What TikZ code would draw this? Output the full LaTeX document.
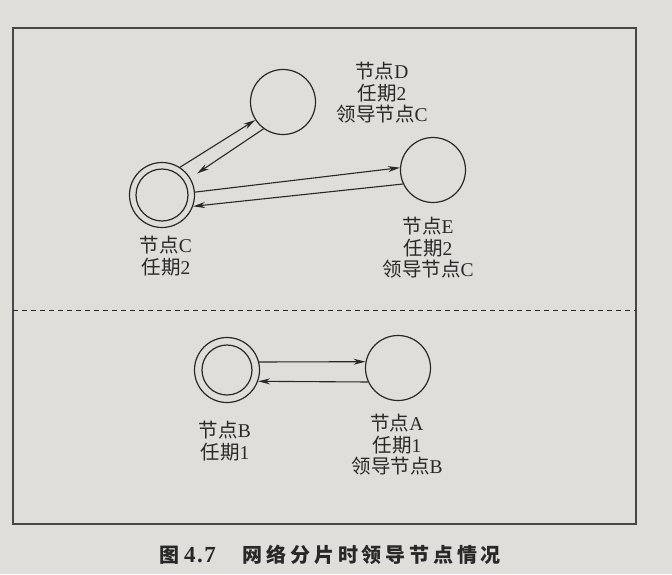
\documentclass[tikz,border=0pt]{standalone}
\usepackage{fontspec}
\setmainfont{Liberation Serif}
\newfontfamily\cjk{Noto Sans CJK SC}
\usetikzlibrary{arrows.meta}
\definecolor{paper}{RGB}{223,222,218}
\definecolor{ink}{RGB}{40,40,40}
\newcommand{\csp}{\hspace{3.8pt}}
\tikzset{
  nd/.style={circle, draw=ink, line width=1.2pt, minimum size=65pt, inner sep=0pt},
  lbl/.style={align=center, font=\fontsize{19.5}{21.5}\selectfont, text=ink, inner sep=0pt},
  msg/.style={-{Stealth[length=12pt,width=6pt]}, line width=1.1pt, draw=ink},
  frame/.style={draw=ink!85, line width=1.5pt},
  sep/.style={draw=ink, line width=1pt, dash pattern=on 5pt off 4pt}
}
\begin{document}
\begin{tikzpicture}[x=1pt,y=-1pt]
\useasboundingbox (0,0) rectangle (672,574);
\fill[paper] (0,0) rectangle (672,574);
% frame and separator
\draw[frame] (13,28) rectangle (636,524);
\coordinate (sepL) at (13,310);
\coordinate (sepR) at (636,310);
\draw[sep] (sepL) -- (sepR);
% nodes
\node[nd] (D) at (283,102) {};
\node[nd] (C) at (162,195) {};
\draw[ink, line width=1.2pt] (C) circle[radius=26pt];
\node[nd] (E) at (433,170) {};
\node[nd] (B) at (227,370) {};
\draw[ink, line width=1.2pt] (B) circle[radius=25pt];
\node[nd] (A) at (398,368) {};
% labels
\node[lbl] (Dl) at (382,93) {{\cjk 节点}D\\{\cjk 任期}2\\{\cjk 领导节点}C};
\node[lbl] (Cl) at (166,256) {{\cjk 节点}C\\{\cjk 任期}2};
\node[lbl] (El) at (428,248) {{\cjk 节点}E\\{\cjk 任期}2\\{\cjk 领导节点}C};
\node[lbl] (Bl) at (225,441) {{\cjk 节点}B\\{\cjk 任期}1};
\node[lbl] (Al) at (397,445) {{\cjk 节点}A\\{\cjk 任期}1\\{\cjk 领导节点}B};
% connectors
\draw[msg] (C.57) -- (D.213);
\draw[msg, shorten >=8pt] (D.234) -- (C.31);
\draw[msg] (C.5) -- (E.176);
\draw[msg] (E.205) -- (C.340);
\draw[msg] (B.14) -- (A.169);
\draw[msg] (A.205) -- (B.340);
% caption
\node[anchor=west, inner sep=0pt, text=ink, font=\fontsize{20}{22}\selectfont\bfseries] (cap) at (159,555)
  {{\cjk 图}\hspace{5pt}{\fontsize{23}{24}\selectfont 4\kern1.5pt.\kern1.5pt7}\hspace{27pt}{\cjk 网\csp 络\csp 分\csp 片\csp 时\csp 领\csp 导\csp 节\csp 点\csp 情\csp 况}};
\end{tikzpicture}
\end{document}
